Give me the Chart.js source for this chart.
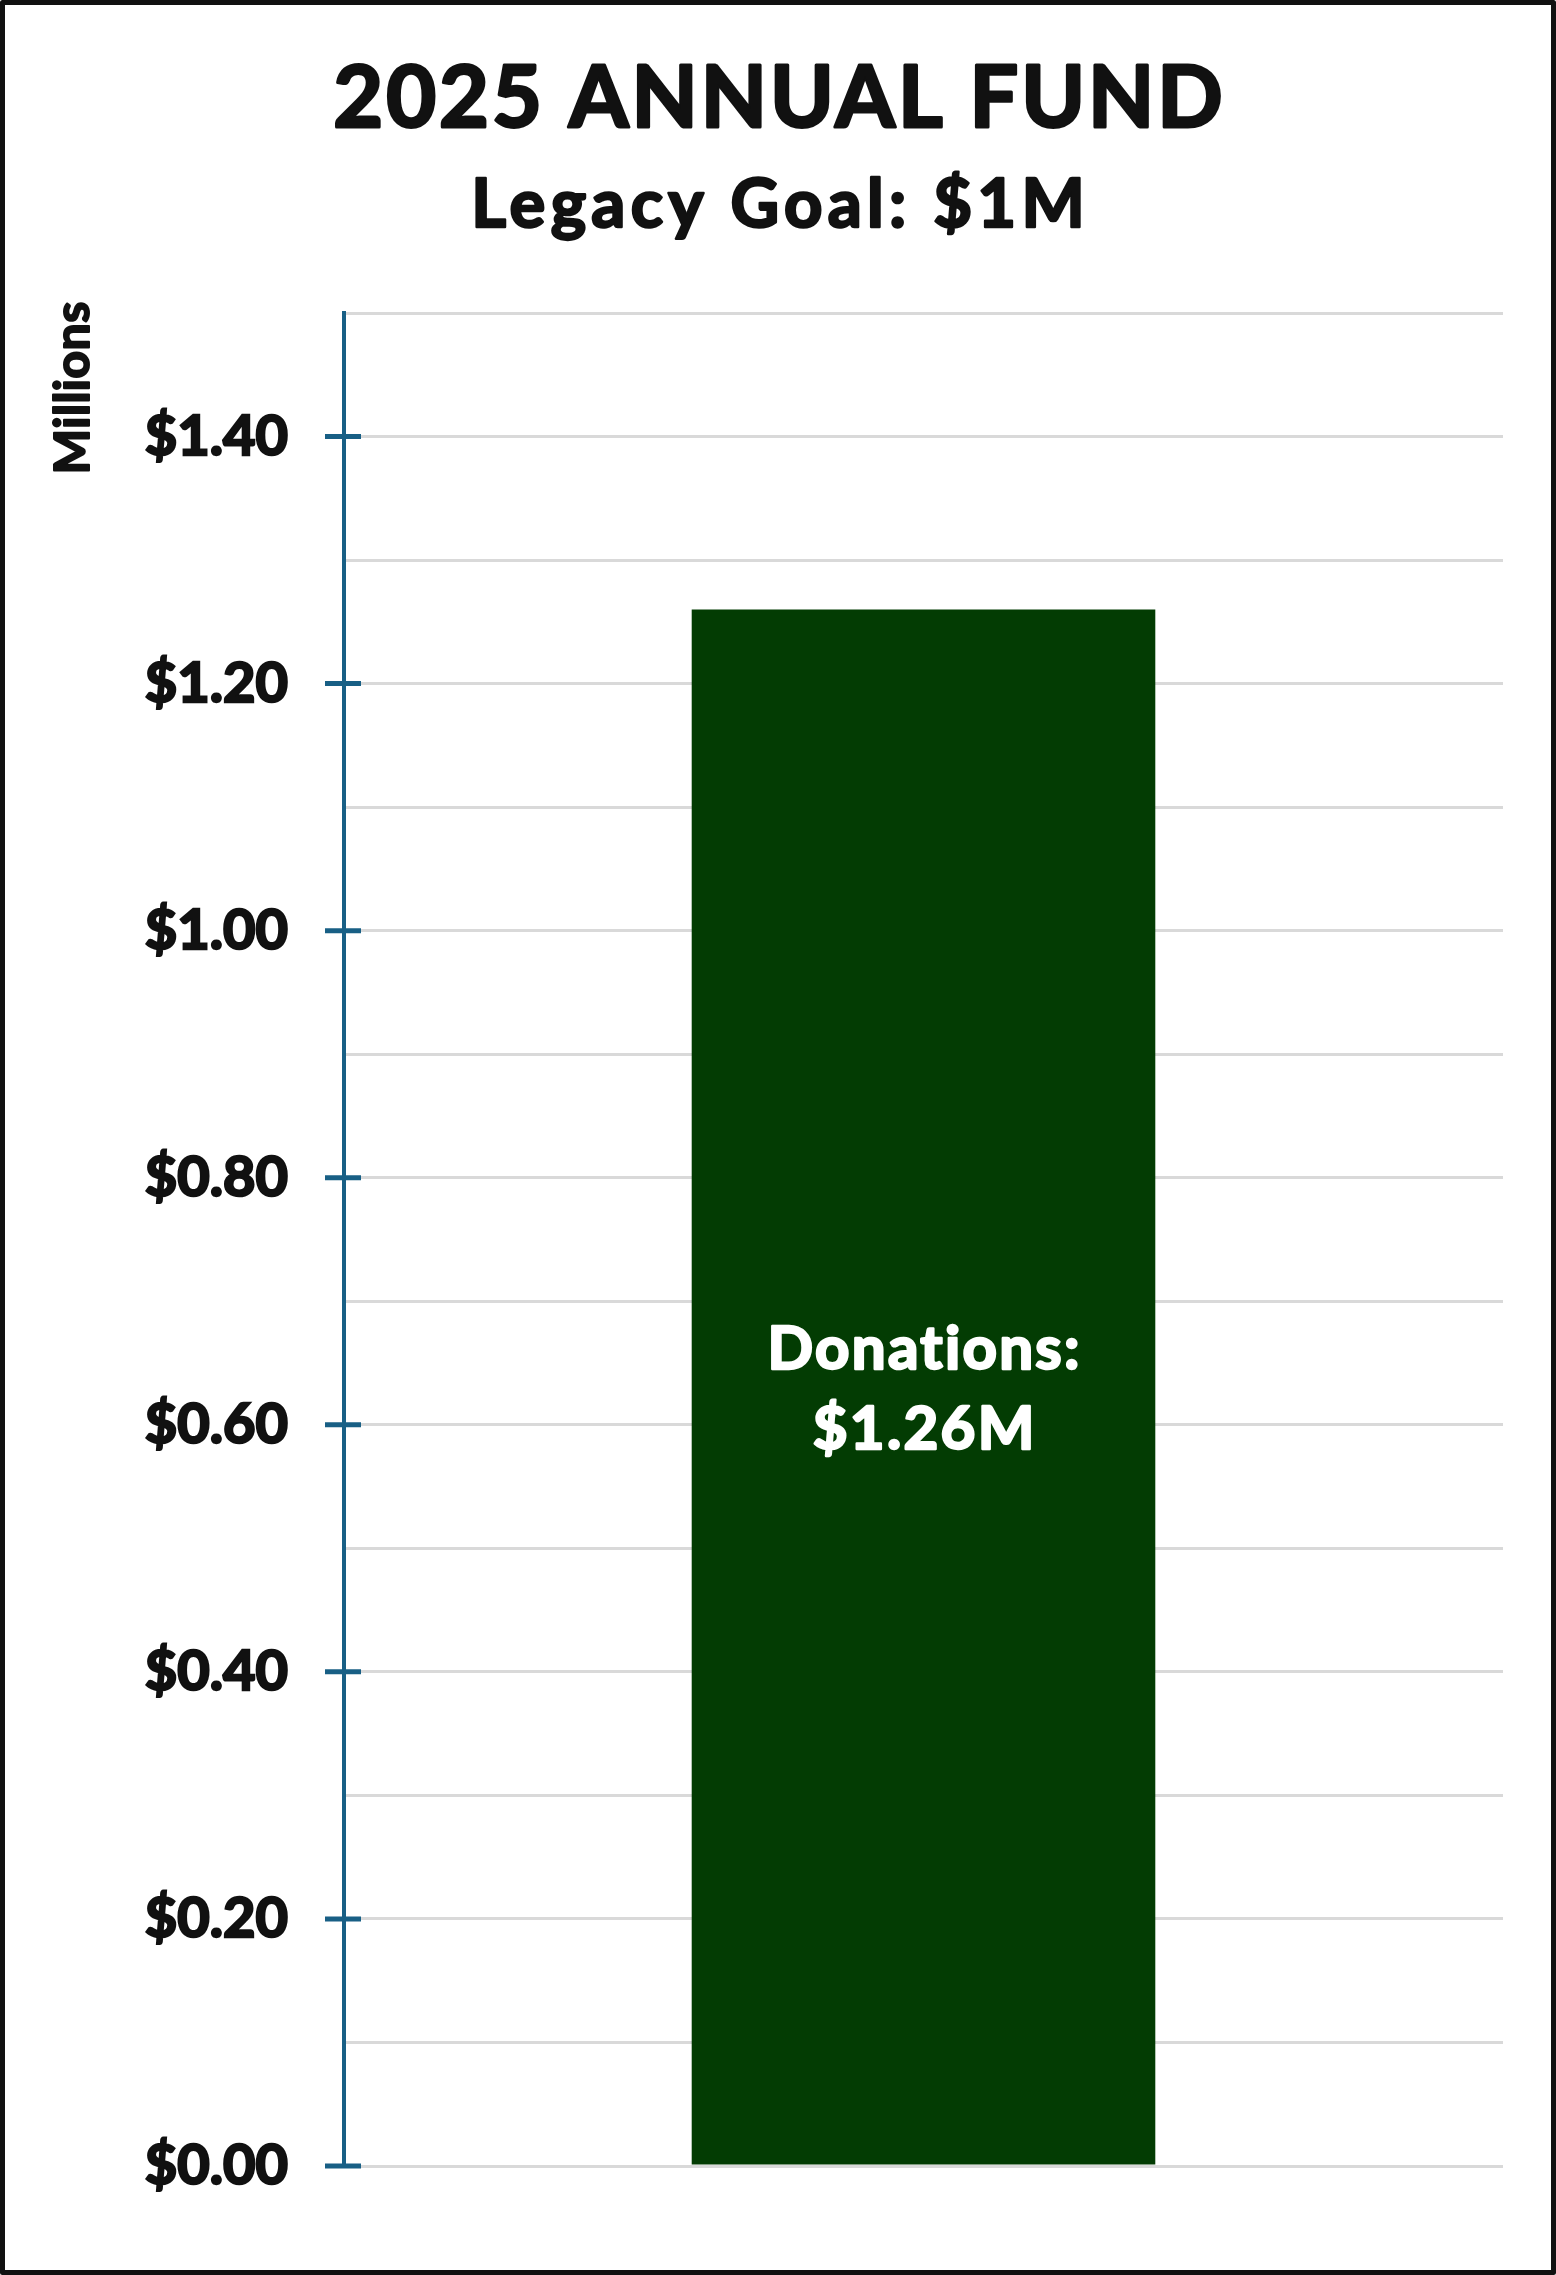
<!DOCTYPE html>
<html>
<head>
<meta charset="utf-8">
<script src="https://cdn.jsdelivr.net/npm/chart.js@4.4.1/dist/chart.umd.min.js"></script>
<style>
    html, body { margin: 0; padding: 0; background: #fff; }
    canvas { display: block; }
</style>
</head>
<body>
<canvas id="fundChart" width="1556" height="2275"></canvas>
<script>
// 2025 Annual Fund - single bar against the legacy goal

const categories = ['2025'];
const donations = [1.26];              // millions
const barLabel = 'Donations:';
const tickValues = [0, 0.2, 0.4, 0.6, 0.8, 1.0, 1.2, 1.4];
const tickLabels = ['$0.00', '$0.20', '$0.40', '$0.60', '$0.80', '$1.00', '$1.20', '$1.40'];

const titleText = '2025 ANNUAL FUND';
const subtitleText = 'Legacy Goal: $1M';
const axisTitle = 'Millions';

const FONT = 'Lato, "Open Sans", sans-serif';
const INK = '#111111';
const AXIS_BLUE = '#185f85';

function labelFor(value) {
    const i = tickValues.findIndex(v => Math.abs(v - value) < 1e-6);
    return i >= 0 ? tickLabels[i] : '';
}

// fill + stroke so the text reads heavier
function heavyText(ctx, text, x, y, spacing, stroke) {
    ctx.letterSpacing = spacing + 'px';
    ctx.lineWidth = stroke;
    ctx.lineJoin = 'round';
    ctx.strokeStyle = ctx.fillStyle;
    ctx.strokeText(text, x + spacing / 2, y);
    ctx.fillText(text, x + spacing / 2, y);
    ctx.letterSpacing = '0px';
}

// frame, titles, axis title, tick marks and the bar label
const decorations = {
    id: 'decorations',
    afterDraw(chart) {
        const ctx = chart.ctx;
        const w = chart.width;
        const h = chart.height;
        const yScale = chart.scales.y;

        ctx.save();

        // tick marks crossing the axis line
        ctx.strokeStyle = AXIS_BLUE;
        ctx.lineWidth = 5;
        tickValues.forEach(v => {
            const y = yScale.getPixelForValue(v);
            ctx.beginPath();
            ctx.moveTo(chart.chartArea.left - 19, y);
            ctx.lineTo(chart.chartArea.left + 17, y);
            ctx.stroke();
        });

        // titles
        ctx.fillStyle = INK;
        ctx.textAlign = 'center';
        ctx.textBaseline = 'alphabetic';
        ctx.font = 'bold 86px ' + FONT;
        heavyText(ctx, titleText, w / 2, 127, 3, 3);
        ctx.font = 'bold 67px ' + FONT;
        heavyText(ctx, subtitleText, w / 2, 227, 5.3, 2.5);

        // rotated axis title
        ctx.save();
        ctx.translate(89, 388);
        ctx.rotate(-Math.PI / 2);
        ctx.font = 'bold 48px ' + FONT;
        heavyText(ctx, axisTitle, 0, 0, 0.5, 2);
        ctx.restore();

        // label inside the bar
        const meta = chart.getDatasetMeta(0);
        meta.data.forEach((bar, i) => {
            const mid = (bar.y + bar.base) / 2;
            ctx.fillStyle = '#ffffff';
            ctx.font = 'bold 60px ' + FONT;
            heavyText(ctx, barLabel, bar.x, mid - 18, 2.3, 2.5);
            heavyText(ctx, '$' + donations[i].toFixed(2) + 'M', bar.x, mid + 62, 2.3, 2.5);
        });

        // outer frame
        ctx.strokeStyle = INK;
        ctx.lineWidth = 5;
        ctx.strokeRect(2.5, 2.5, w - 5, h - 5);

        ctx.restore();
    }
};

const ctx = document.getElementById('fundChart');
new Chart(ctx, {
    type: 'bar',
    data: {
        labels: categories,
        datasets: [{
            label: 'Donations',
            data: donations,
            backgroundColor: '#033c03',
            borderWidth: 0,
            barPercentage: 0.4,
            categoryPercentage: 1.0
        }]
    },
    options: {
        responsive: false,
        devicePixelRatio: 1,
        animation: false,
        layout: {
            padding: { left: 0, top: 313, right: 53, bottom: 109 }
        },
        plugins: {
            legend: { display: false },
            tooltip: { enabled: false }
        },
        scales: {
            x: {
                display: false
            },
            y: {
                min: 0,
                max: 1.5,
                afterFit(scale) {
                    scale.width = 344;
                },
                ticks: {
                    stepSize: 0.1,
                    padding: 56,
                    color: INK,
                    textStrokeColor: INK,
                    textStrokeWidth: 2.5,
                    font: { family: FONT, size: 56, weight: 'bold' },
                    callback: value => labelFor(value)
                },
                grid: {
                    color: '#d9d9d9',
                    lineWidth: 3,
                    drawTicks: false
                },
                border: {
                    color: AXIS_BLUE,
                    width: 4
                }
            }
        }
    },
    plugins: [decorations]
});
</script>
</body>
</html>
